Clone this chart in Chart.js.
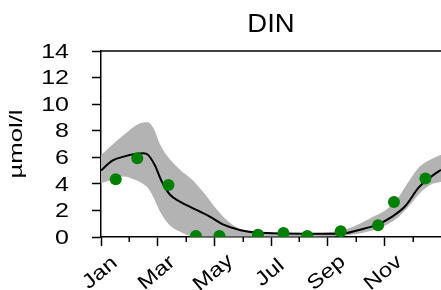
<!DOCTYPE html>
<html>
<head>
<meta charset="utf-8">
<script src="https://cdn.jsdelivr.net/npm/chart.js@4"></script>
<style>
  html, body { margin: 0; padding: 0; background: #fff; }
  canvas { display: block; }
</style>
</head>
<body>
<canvas id="dinChart" width="441" height="290"></canvas>
<script>
// Datos (x = mes decimal, 0 = 1 de enero)
const monthTicks = [0, 2, 4, 6, 8, 10];
const monthLabels = ['Jan', 'Mar', 'May', 'Jul', 'Sep', 'Nov'];

// Modelo (línea negra)
const modelX = [0, 0.4, 0.8, 1.2, 1.5, 1.65, 1.9, 2.14, 2.43, 2.8, 3.13, 3.5, 3.84, 4.3, 4.89, 5.5, 6.5, 7.5, 8.45, 9.1, 9.75, 10.25, 10.75, 11.2, 11.5, 11.75, 12];
const modelY = [5.0, 5.75, 6.05, 6.25, 6.3, 6.2, 5.4, 4.2, 3.2, 2.65, 2.28, 1.9, 1.53, 0.95, 0.53, 0.33, 0.26, 0.25, 0.24, 0.53, 0.93, 1.5, 2.35, 3.7, 4.3, 4.7, 5.05];

// Banda gris (rango)
const bandX = [0, 0.4, 0.8, 1.2, 1.45, 1.65, 1.85, 2.1, 2.4, 2.8, 3.2, 3.6, 4.0, 4.45, 4.9, 5.4, 6, 7, 8.2, 8.9, 9.6, 10.05, 10.5, 10.9, 11.25, 11.6, 12];
const bandUpper = [6.17, 6.95, 7.67, 8.35, 8.6, 8.63, 8.2, 6.9, 5.92, 5.05, 4.35, 3.4, 2.3, 1.25, 0.62, 0.4, 0.3, 0.28, 0.4, 0.78, 1.53, 2.03, 3.0, 4.3, 5.3, 5.8, 6.2];
const bandLower = [4.05, 4.3, 4.55, 4.3, 4.05, 3.7, 3.0, 1.85, 0.95, 0.4, 0.08, 0.04, 0.03, 0.03, 0.03, 0.03, 0.03, 0.03, 0.05, 0.18, 0.5, 0.88, 1.5, 2.4, 3.3, 3.9, 4.15];

// Observaciones (puntos verdes)
const obsX = [0.52, 1.28, 2.38, 3.35, 4.18, 5.54, 6.44, 7.28, 8.46, 9.78, 10.34, 11.45];
const obsY = [4.34, 5.92, 3.91, 0.08, 0.08, 0.17, 0.3, 0.08, 0.43, 0.88, 2.63, 4.41];

const yTicks = [0, 2, 4, 6, 8, 10, 12, 14];

const toXY = (xs, ys) => xs.map((x, i) => ({ x: x, y: ys[i] }));

const fontFamily = 'Arial, "Liberation Sans", Helvetica, sans-serif';

// Textos y marcas extra: título, etiquetas, meses rotados, marco superior
const extrasPlugin = {
    id: 'extras',
    afterDraw(chart) {
        const ctx = chart.ctx;
        const area = chart.chartArea;
        const xScale = chart.scales.x;
        const yScale = chart.scales.y;
        ctx.save();

        // marco superior
        ctx.strokeStyle = '#000';
        ctx.lineWidth = 1.5;
        ctx.beginPath();
        ctx.moveTo(area.left, area.top);
        ctx.lineTo(area.right, area.top);
        ctx.stroke();

        // marcas menores (meses pares)
        for (let m = 1; m < 12; m += 2) {
            const px = Math.round(xScale.getPixelForValue(m)) + 0.25;
            ctx.beginPath();
            ctx.moveTo(px, area.bottom);
            ctx.lineTo(px, area.bottom + 5);
            ctx.stroke();
        }

        ctx.fillStyle = '#000';

        // título
        ctx.save();
        ctx.translate((area.left + area.right) / 2, 31.5);
        ctx.scale(1.1, 1);
        ctx.font = '25px ' + fontFamily;
        ctx.textAlign = 'center';
        ctx.textBaseline = 'alphabetic';
        ctx.fillText('DIN', 0, 0);
        ctx.restore();

        // etiquetas del eje y
        ctx.font = '20.5px ' + fontFamily;
        ctx.textAlign = 'right';
        ctx.textBaseline = 'middle';
        yTicks.forEach(v => {
            const py = yScale.getPixelForValue(v);
            ctx.save();
            ctx.translate(69, py + 1);
            ctx.scale(1.22, 1);
            ctx.fillText(String(v), 0, 0);
            ctx.restore();
        });

        // etiqueta eje y
        ctx.save();
        ctx.translate(21.5, (area.top + area.bottom) / 2);
        ctx.rotate(-Math.PI / 2);
        ctx.scale(1.35, 1);
        ctx.font = '19px ' + fontFamily;
        ctx.textAlign = 'center';
        ctx.textBaseline = 'alphabetic';
        ctx.fillText('µmol/l', 0, 0);
        ctx.restore();

        // etiquetas de meses rotadas
        ctx.font = '20px ' + fontFamily;
        ctx.textAlign = 'center';
        ctx.textBaseline = 'middle';
        monthTicks.forEach((m, i) => {
            const px = xScale.getPixelForValue(m);
            ctx.save();
            ctx.translate(px - 1, 273);
            ctx.rotate(-40 * Math.PI / 180);
            ctx.scale(1.2, 1);
            ctx.fillText(monthLabels[i], 0, 0);
            ctx.restore();
        });

        ctx.restore();
    }
};

const canvas = document.getElementById('dinChart');

new Chart(canvas.getContext('2d'), {
    type: 'line',
    data: {
        datasets: [
            {
                label: 'obs',
                data: toXY(obsX, obsY),
                showLine: false,
                pointRadius: 6,
                pointHoverRadius: 6,
                pointBackgroundColor: '#008000',
                pointBorderWidth: 0,
                order: 0
            },
            {
                label: 'model',
                data: toXY(modelX, modelY),
                borderColor: '#000',
                borderWidth: 2,
                pointRadius: 0,
                cubicInterpolationMode: 'monotone',
                fill: false,
                order: 1
            },
            {
                label: 'upper',
                data: toXY(bandX, bandUpper),
                borderWidth: 0,
                borderColor: 'rgba(0,0,0,0)',
                backgroundColor: '#b3b3b3',
                pointRadius: 0,
                cubicInterpolationMode: 'monotone',
                fill: 3,
                order: 2
            },
            {
                label: 'lower',
                data: toXY(bandX, bandLower),
                borderWidth: 0,
                borderColor: 'rgba(0,0,0,0)',
                pointRadius: 0,
                cubicInterpolationMode: 'monotone',
                fill: false,
                order: 3
            }
        ]
    },
    options: {
        responsive: false,
        animation: false,
        layout: { autoPadding: false, padding: { top: 51, right: 0, bottom: 0, left: 0 } },
        plugins: {
            legend: { display: false },
            tooltip: { enabled: false },
            title: { display: false }
        },
        scales: {
            x: {
                type: 'linear',
                min: 0,
                max: 12,
                afterFit: s => { s.height = 53; },
                afterBuildTicks: s => { s.ticks = monthTicks.map(v => ({ value: v })); },
                border: { color: '#000', width: 1.5 },
                grid: {
                    drawOnChartArea: false,
                    drawTicks: true,
                    tickLength: 9,
                    tickWidth: 1.5,
                    tickColor: '#000'
                },
                ticks: { display: false }
            },
            y: {
                min: 0,
                max: 14,
                afterFit: s => { s.width = 101; },
                afterBuildTicks: s => { s.ticks = yTicks.map(v => ({ value: v })); },
                border: { color: '#000', width: 1.5 },
                grid: {
                    drawOnChartArea: false,
                    drawTicks: true,
                    tickLength: 9,
                    tickWidth: 1.5,
                    tickColor: '#000'
                },
                ticks: { display: false }
            }
        }
    },
    plugins: [extrasPlugin]
});
</script>
</body>
</html>
